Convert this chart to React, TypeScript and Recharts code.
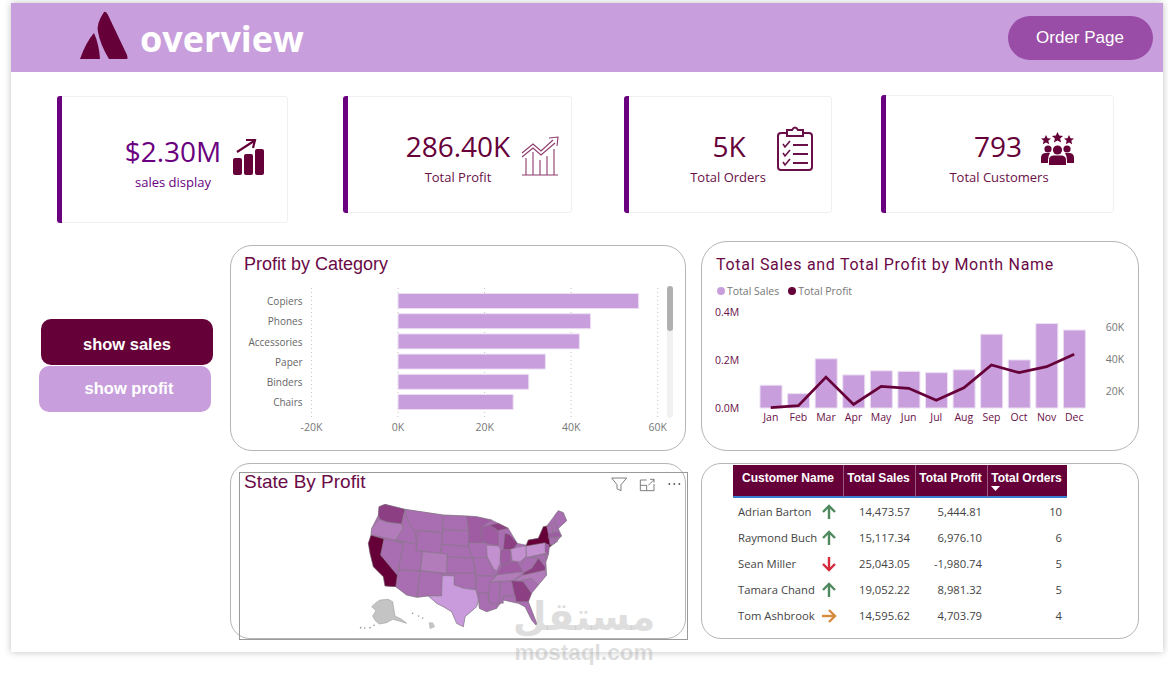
import React from "react";
import { BarChart, Bar, XAxis, YAxis, CartesianGrid, ComposedChart, Line, Legend } from "recharts";

const categories = ["Copiers", "Phones", "Accessories", "Paper", "Binders", "Chairs"];
const categoryProfit = [55600, 44500, 41900, 34050, 30200, 26600];
const profitTicks = [-20000, 0, 20000, 40000, 60000];

const months = ["Jan", "Feb", "Mar", "Apr", "May", "Jun", "Jul", "Aug", "Sep", "Oct", "Nov", "Dec"];
const monthSales = [94900, 59800, 205000, 137800, 155000, 152700, 147200, 159000, 307600, 200300, 352000, 325000];
const monthProfit = [9800, 11000, 28900, 11800, 23100, 21900, 14400, 22200, 36500, 31700, 35400, 43200];
const salesTicks = [0, 200000, 400000];
const profitAxisTicks = [20000, 40000, 60000];

const customers = ["Adrian Barton", "Raymond Buch", "Sean Miller", "Tamara Chand", "Tom Ashbrook"];
const custSales = ["14,473.57", "15,117.34", "25,043.05", "19,052.22", "14,595.62"];
const custProfit = ["5,444.81", "6,976.10", "-1,980.74", "8,981.32", "4,703.79"];
const custOrders = ["10", "6", "5", "5", "4"];
const custTrend = ["up", "up", "down", "up", "right"];

const kpiValues = ["$2.30M", "286.40K", "5K", "793"];
const kpiLabels = ["sales display", "Total Profit", "Total Orders", "Total Customers"];

const categoryRows = categories.map((name, i) => ({ name, profit: categoryProfit[i] }));
const monthRows = months.map((name, i) => ({ name, sales: monthSales[i], profit: monthProfit[i] }));

const WINE = "#660039";
const LILAC = "#c89fdc";
const PURPLE = "#6a0080";
const SANS = "'Open Sans', sans-serif";
const ARIAL = "'Liberation Sans', Arial, sans-serif";

const MID = "#a96db1", DARK = "#8d3f84", DEEP = "#9f5ca3", LIGHT = "#c491d0", PALE = "#c99bdc", SOFT = "#b27bba";

// outline of the state-by-profit map, traced in a 3x drawing space
const mapHull =
  "447,140 465,133 525,148 640,165 710,168 740,170 785,180 805,190 835,205 862,250 888,255 895,240 925,235 940,200 950,198 975,165 985,152 1000,158 1010,182 985,205 995,228 975,250 958,262 955,285 952,295 948,305 950,345 925,375 905,398 895,425 920,490 918,495 905,480 885,440 865,430 820,420 800,445 770,455 748,445 745,420 740,440 705,470 700,500 680,490 665,455 640,440 620,430 595,408 562,412 530,405 497,380 465,378 460,350 430,320 420,280 415,250 423,224 425,205 445,165";
const stateShapes: [string, string][] = [
  ["447,140 465,133 525,148 515,192 470,185 450,178 445,165", DARK],
  ["447,178 470,187 515,192 520,205 498,240 423,224 425,205", SOFT],
  ["525,148 540,195 555,215 560,253 498,240 520,205 515,190", MID],
  ["525,148 640,165 637,218 565,212 555,215 540,195 530,170", MID],
  ["565,212 637,218 632,280 558,272", MID],
  ["498,240 560,253 558,272 578,275 570,332 505,330 520,250", MID],
  ["578,275 652,282 650,340 572,332", SOFT],
  ["505,330 570,332 560,412 530,405 497,380 502,345", MID],
  ["570,332 637,340 635,408 590,408 562,412", MID],
  ["640,165 710,168 716,212 638,210", MID],
  ["638,210 716,212 716,260 635,253", MID],
  ["635,253 716,260 728,295 652,290 652,282 633,280", MID],
  ["652,290 728,295 735,340 650,340", MID],
  ["637,340 735,340 738,390 700,385 672,375 672,348 637,347", MID],
  ["637,347 672,348 672,375 700,385 738,390 745,420 740,440 705,470 700,500 680,490 665,455 640,440 620,430 595,408 635,408", PALE],
  ["710,168 740,170 785,180 755,200 755,235 768,248 716,248 716,212", DEEP],
  ["716,248 770,248 780,275 770,292 728,295 716,260", MID],
  ["728,295 770,292 785,320 795,348 738,348 735,320", MID],
  ["738,348 795,348 790,355 775,400 745,400 738,390", MID],
  ["745,400 775,400 775,425 800,425 800,445 770,455 748,445 748,420", MID],
  ["755,200 785,195 805,215 805,258 770,250 755,235", DEEP],
  ["770,256 805,258 812,270 810,310 800,332 790,325 772,290", LIGHT],
  ["812,270 842,266 842,305 815,318 810,300", DEEP],
  ["820,268 825,220 840,225 862,250 850,268", DARK],
  ["780,195 805,190 835,205 810,210 805,212", DARK],
  ["842,268 862,262 888,258 888,290 870,305 847,302", LIGHT],
  ["800,342 815,318 842,305 860,305 875,325 880,335 800,345", DEEP],
  ["790,358 800,345 880,335 870,345 850,362 780,367", SOFT],
  ["780,367 812,365 808,430 780,430 775,400", MID],
  ["812,365 845,362 855,405 820,410 820,430 808,430", MID],
  ["845,362 880,365 905,400 895,425 858,425", DARK],
  ["820,410 855,405 858,425 895,425 920,490 918,495 905,480 885,440 865,430 820,420", MID],
  ["870,362 905,355 925,375 905,400 880,365", MID],
  ["850,362 880,345 945,330 950,345 925,375 905,355 870,362", SOFT],
  ["880,338 905,325 925,295 945,320 945,330 880,345", DARK],
  ["870,320 888,290 925,295 905,325 880,338", MID],
  ["888,258 945,248 955,275 945,280 890,292", LIGHT],
  ["895,240 925,235 940,200 952,198 965,255 958,262 945,248 888,258", WINE],
  ["975,165 985,152 1000,158 1010,182 985,205 975,190", MID],
  ["965,195 975,185 982,210 968,218", MID],
  ["950,198 965,195 968,218 955,222", MID],
  ["955,222 985,215 995,228 955,235", DEEP],
  ["957,235 975,232 975,250 960,255", MID],
  ["975,232 983,232 982,245 975,248", MID],
  ["945,250 958,255 955,285 945,275", DEEP],
  ["945,280 952,295 943,295", MID],
  ["900,292 945,283 948,305 935,300 925,295", MID],
  ["423,226 462,237 452,285 502,345 497,380 465,378 460,350 430,320 420,280 415,250", WINE],
  ["462,237 520,250 505,330 502,345 452,285", MID],
];
const alaskaShape = "450,420 475,418 488,425 495,468 515,478 530,490 510,484 488,478 470,488 448,492 436,482 428,468 438,452 425,440 438,428";
const hawaiiShape = "597,488 608,488 614,500 600,506";
const islandDots = ["548,460", "566,468", "578,474", "392,503", "404,504", "420,503", "432,496"];

function Txt({ x, y, children, style, anchor = "center" }: any) {
  const tx = anchor === "center" ? "-50%" : anchor === "end" ? "-100%" : "0";
  return (
    <div style={{ position: "absolute", left: x, top: y, transform: `translate(${tx},-50%)`, whiteSpace: "nowrap", lineHeight: 1, ...style }}>
      {children}
    </div>
  );
}

function Box({ x, y, w, h, style }: any) {
  return <div style={{ position: "absolute", left: x, top: y, width: w, height: h, boxSizing: "border-box", ...style }} />;
}

function Kpi({ x, y, w, h }: any) {
  return (
    <>
      <Box x={x} y={y} w={w} h={h} style={{ border: "1px solid #f0f0f0", borderRadius: 3, background: "#fff" }} />
      <Box x={x} y={y} w={5} h={h} style={{ background: PURPLE, borderRadius: "3px 0 0 3px" }} />
    </>
  );
}

function Arrow({ kind, x, y }: any) {
  const color = kind === "up" ? "#4f8a5f" : kind === "down" ? "#d42a3c" : "#d58a3c";
  const rot = kind === "up" ? 0 : kind === "down" ? 180 : 90;
  return (
    <svg width={16} height={16} viewBox="0 0 16 16" style={{ position: "absolute", left: x - 8, top: y - 8 }}>
      <g transform={`rotate(${rot} 8 8)`} fill="none" stroke={color} strokeWidth={2.4}>
        <path d="M8 15V2" />
        <path d="M2 8 L8 2 L14 8" />
      </g>
    </svg>
  );
}

function MonthLegend({ payload }: any) {
  return (
    <div style={{ display: "flex", alignItems: "center", fontSize: 10.5, fontFamily: SANS, color: "#777", height: 13, whiteSpace: "nowrap" }}>
      {(payload || []).map((p: any) => (
        <span key={p.value} style={{ display: "inline-flex", alignItems: "center", marginRight: 9 }}>
          <span style={{ width: 8, height: 8, borderRadius: 4, background: p.color, marginRight: 2 }} />
          {p.value}
        </span>
      ))}
    </div>
  );
}

export default function App() {
  const axisGrey = { fontSize: 10.5, fill: "#777", fontFamily: SANS };
  const catGrey = { fontSize: 10, fill: "#666", fontFamily: SANS, dy: 1 };
  const axisWine = { fontSize: 10.5, fill: "#6a1048", fontFamily: SANS };
  const kpiBig = { fontSize: 28, fontWeight: 500 };
  return (
    <div style={{ position: "absolute", left: 0, top: 0, width: 1168, height: 678, background: "#fff", overflow: "hidden", fontFamily: SANS }}>
      <Box x={11} y={3} w={1152} h={649} style={{ background: "#fff", boxShadow: "0 0 7px rgba(0,0,0,0.25)" }} />
      <Box x={11} y={3} w={1152} h={69} style={{ background: LILAC }} />

      <svg width={60} height={60} style={{ position: "absolute", left: 75, top: 6 }}>
        <g transform="translate(-75,-6)" fill={WINE}>
          <path d="M80 59 Q86 42 94 33 Q99 44 100 59 Z" />
          <path d="M104 12 Q96 24 98 32 Q100 44 109 59 L127 59 Q128 58 127 55 L108 15 Q106 11 104 12 Z" />
        </g>
      </svg>
      <Txt x={140} y={39} anchor="start" style={{ fontSize: 36, fontWeight: 700, color: "#fff" }}>overview</Txt>
      <Box x={1008} y={16} w={145} h={44} style={{ background: "#9a4da6", borderRadius: 22 }} />
      <Txt x={1080} y={37} style={{ fontFamily: ARIAL, fontSize: 17, color: "#fff" }}>Order Page</Txt>

      <Kpi x={57} y={96} w={231} h={127} />
      <Kpi x={343} y={96} w={229} h={117} />
      <Kpi x={624} y={96} w={208} h={117} />
      <Kpi x={881} y={95} w={233} h={118} />

      <Txt x={173} y={151} style={{ ...kpiBig, color: PURPLE }}>{kpiValues[0]}</Txt>
      <Txt x={173} y={182} style={{ fontSize: 13, color: PURPLE }}>{kpiLabels[0]}</Txt>
      <Txt x={458} y={146} style={{ ...kpiBig, color: WINE }}>{kpiValues[1]}</Txt>
      <Txt x={458} y={177} style={{ fontSize: 13, color: "#6a1048" }}>{kpiLabels[1]}</Txt>
      <Txt x={729} y={146} style={{ ...kpiBig, color: WINE }}>{kpiValues[2]}</Txt>
      <Txt x={728} y={177} style={{ fontSize: 13, color: "#6a1048" }}>{kpiLabels[2]}</Txt>
      <Txt x={998} y={146} style={{ ...kpiBig, color: WINE }}>{kpiValues[3]}</Txt>
      <Txt x={999} y={177} style={{ fontSize: 13, color: "#6a1048" }}>{kpiLabels[3]}</Txt>

      <svg width={1168} height={200} style={{ position: "absolute", left: 0, top: 0, pointerEvents: "none" }}>
        <g fill={WINE}>
          <rect x={233} y={158} width={9} height={17} rx={2} />
          <rect x={244} y={154} width={9} height={21} rx={2} />
          <rect x={255} y={149} width={9} height={26} rx={2} />
        </g>
        <path d="M237 152 L254 141 M246 140 L255 140 L253 148" fill="none" stroke={WINE} strokeWidth={2.2} />
        <g fill="none" stroke="#8e3a6c" strokeWidth={1.1}>
          <path d="M522 175 H558 M526 175 V158 M533 175 V152 M540 175 V160 M547 175 V156 M554 175 V149" />
          <path d="M522 157 L533 148 L541 155 L555 143 M522 153 L533 144 L541 151 L553 140 M549 138 L558 137 L557 146" />
        </g>
        <g fill="none" stroke="#6a1048" strokeWidth={2}>
          <rect x={778} y={133} width={34} height={37} rx={3} />
          <path d="M787 133 V130 H792 Q795 125 798 130 H803 V136 H787 Z" fill="#fff" />
          <path d="M783 144 L785 147 L790 141 M783 153 L785 156 L790 150 M783 162 L785 165 L790 159" strokeWidth={1.6} />
          <path d="M793 145 H808 M793 154 H808 M793 163 H808" />
        </g>
        <g fill={WINE}>
          <path d="M1046 135 l1.5 3.2 3.5 .3-2.7 2.3 .9 3.4-3.2-1.8-3.2 1.8 .9-3.4-2.7-2.3 3.5-.3z" />
          <path d="M1057.5 132 l1.7 3.6 3.9 .4-3 2.6 1 3.8-3.6-2-3.6 2 1-3.8-3-2.6 3.9-.4z" />
          <path d="M1069 135 l1.5 3.2 3.5 .3-2.7 2.3 .9 3.4-3.2-1.8-3.2 1.8 .9-3.4-2.7-2.3 3.5-.3z" />
          <circle cx={1048} cy={149} r={3.6} />
          <circle cx={1067} cy={149} r={3.6} />
          <circle cx={1057.5} cy={150} r={4.6} />
          <path d="M1041 163 V158 Q1041 153 1046 153 H1050 Q1048 156 1048 160 V163 Z" />
          <path d="M1074 163 V158 Q1074 153 1069 153 H1065 Q1067 156 1067 160 V163 Z" />
          <path d="M1049 165 V160 Q1049 155.5 1054 155.5 H1061 Q1066 155.5 1066 160 V165 Z" />
        </g>
      </svg>

      <Box x={41} y={319} w={172} h={46} style={{ background: WINE, borderRadius: 10 }} />
      <Txt x={127} y={344} style={{ fontFamily: ARIAL, fontWeight: 700, fontSize: 16.5, color: "#fff" }}>show sales</Txt>
      <Box x={39} y={366} w={172} h={46} style={{ background: LILAC, borderRadius: 10 }} />
      <Txt x={129} y={388} style={{ fontFamily: ARIAL, fontWeight: 700, fontSize: 16.5, color: "#fff" }}>show profit</Txt>

      {/* Profit by Category */}
      <Box x={230} y={245} w={456} h={206} style={{ border: "1px solid #b5b5b5", borderRadius: 22 }} />
      <Txt x={244} y={264} anchor="start" style={{ fontFamily: ARIAL, fontSize: 18, color: "#6a0a46" }}>Profit by Category</Txt>
      <div style={{ position: "absolute", left: 231, top: 270 }}>
        <BarChart width={450} height={170} layout="vertical" data={categoryRows} margin={{ top: 18, left: 0, right: 23.3, bottom: 3 }} barSize={15}>
          <CartesianGrid horizontal={false} strokeDasharray="1 3" stroke="#c4c4c4" />
          <XAxis type="number" domain={[-20000, 60000]} ticks={profitTicks} axisLine={false} tickLine={false} height={20} tickMargin={1}
            tickFormatter={(v: number) => `${v / 1000}K`} tick={axisGrey} interval={0} />
          <YAxis type="category" dataKey="name" width={80.5} axisLine={false} tickLine={false} tickMargin={3} tick={catGrey}
            padding={{ top: 2.5, bottom: 5.3 }} interval={0} />
          <Bar dataKey="profit" fill={LILAC} stroke="#ecdff3" strokeWidth={1} isAnimationActive={false} />
        </BarChart>
      </div>
      <Box x={667} y={286} w={6} h={132} style={{ background: "#f1f1f1", borderRadius: 3 }} />
      <Box x={667} y={286} w={6} h={45} style={{ background: "#b0b0b0", borderRadius: 3 }} />

      {/* Monthly combo */}
      <Box x={701} y={241} w={438} h={210} style={{ border: "1px solid #b5b5b5", borderRadius: 26 }} />
      <Txt x={716} y={265} anchor="start" style={{ fontFamily: "Roboto, sans-serif", fontWeight: 400, fontSize: 16, letterSpacing: 0.7, color: "#6a0a46" }}>
        Total Sales and Total Profit by Month Name
      </Txt>
      <div style={{ position: "absolute", left: 702, top: 282 }}>
        <ComposedChart width={436} height={158} data={monthRows} margin={{ top: 17, left: 0, right: 0, bottom: 12 }} barSize={22}>
          <Legend verticalAlign="top" align="left" itemSorter={(item: any) => (item.value === "Total Sales" ? 0 : 1)}
            content={<MonthLegend />} wrapperStyle={{ position: "absolute", left: 15, top: 2, width: 200 }} />
          <XAxis dataKey="name" axisLine={false} tickLine={false} height={20} tickMargin={0} tick={axisWine} interval={0} />
          <YAxis yAxisId="left" domain={[0, 400000]} ticks={salesTicks} width={55} axisLine={false} tickLine={false} tickMargin={11.7}
            tickFormatter={(v: number) => `${(v / 1000000).toFixed(1)}M`} tick={axisWine} interval={0} />
          <YAxis yAxisId="right" orientation="right" domain={[9600, 69600]} ticks={profitAxisTicks} width={50} axisLine={false} tickLine={false} tickMargin={11.7}
            tickFormatter={(v: number) => `${v / 1000}K`} tick={axisGrey} interval={0} />
          <Bar yAxisId="left" dataKey="sales" name="Total Sales" fill={LILAC} stroke="#ecdff3" strokeWidth={1} isAnimationActive={false} />
          <Line yAxisId="right" dataKey="profit" name="Total Profit" stroke={WINE} strokeWidth={2.8} dot={false} legendType="circle" isAnimationActive={false} />
        </ComposedChart>
      </div>

      {/* Map */}
      <Box x={230} y={463} w={456} h={176} style={{ border: "1px solid #b5b5b5", borderRadius: 20 }} />
      <Box x={239} y={472} w={449} h={168} style={{ border: "1px solid #9a9a9a" }} />
      <Txt x={244} y={481} anchor="start" style={{ fontFamily: ARIAL, fontSize: 19, color: "#6a0a46" }}>State By Profit</Txt>
      <svg width={465} height={210} viewBox="0 0 1395 630" style={{ position: "absolute", left: 230, top: 460 }}>
        <polygon points={mapHull} fill={MID} stroke="#7d7d7d" strokeWidth={1.4} strokeLinejoin="round" />
        {stateShapes.map(([pts, fill], i) => (
          <polygon key={i} points={pts} fill={fill} stroke="#7d7d7d" strokeWidth={1.4} strokeLinejoin="round" />
        ))}
        <polygon points={alaskaShape} fill="#c4c4c4" stroke="#8a8a8a" strokeWidth={1.4} />
        <polygon points={hawaiiShape} fill="#c4c4c4" stroke="#a0a0a0" strokeWidth={1} />
        {islandDots.map((p) => {
          const [cx, cy] = p.split(",");
          return <circle key={p} cx={cx} cy={cy} r={2.5} fill="#999" />;
        })}
        <g fill="none" stroke="#666" strokeWidth={2.5}>
          <path d="M1145 54 H1190 L1173 74 V92 L1161 86 V74 Z" />
          <path d="M1250 60 H1231 V92 H1272 V72 M1231 76 H1250 V92 M1255 76 L1272 59 M1260 58 H1272 V68" />
        </g>
        <g fill="#555">
          <circle cx={1318} cy={72} r={2.8} /><circle cx={1333} cy={72} r={2.8} /><circle cx={1348} cy={72} r={2.8} />
        </g>
      </svg>

      {/* Table */}
      <Box x={701} y={463} w={438} h={176} style={{ border: "1px solid #b5b5b5", borderRadius: 20 }} />
      <Box x={733} y={465} w={334} h={33} style={{ background: WINE, borderBottom: "2px solid #3b7fd0" }} />
      {[842.5, 914.5, 986.5].map((x) => <Box key={x} x={x} y={465} w={1} h={32} style={{ background: "#9c5a82" }} />)}
      {["Customer Name", "Total Sales", "Total Profit", "Total Orders"].map((h, i) => (
        <Txt key={h} x={[788, 878.5, 950.5, 1026.5][i]} y={478} style={{ fontFamily: ARIAL, fontWeight: 700, fontSize: 12, color: "#fff" }}>{h}</Txt>
      ))}
      <svg width={12} height={8} style={{ position: "absolute", left: 990, top: 485 }}><path d="M1 1 H10 L5.5 6 Z" fill="#fff" /></svg>
      {customers.map((name, i) => {
        const y = 512 + i * 26;
        const c = { fontSize: 11.25, color: "#444" };
        return (
          <React.Fragment key={name}>
            <Txt x={738} y={y} anchor="start" style={c}>{name}</Txt>
            <Arrow kind={custTrend[i]} x={829} y={y} />
            <Txt x={910} y={y} anchor="end" style={c}>{custSales[i]}</Txt>
            <Txt x={982} y={y} anchor="end" style={c}>{custProfit[i]}</Txt>
            <Txt x={1062} y={y} anchor="end" style={c}>{custOrders[i]}</Txt>
          </React.Fragment>
        );
      })}

      {/* Watermark */}
      <Txt x={584} y={616} style={{ fontFamily: "'DejaVu Sans', sans-serif", fontWeight: 700, fontSize: 39, color: "rgba(160,160,160,0.35)" }}>مستقل</Txt>
      <Txt x={584} y={653} style={{ fontFamily: ARIAL, fontWeight: 700, fontSize: 22.5, color: "rgba(160,160,160,0.35)" }}>mostaql.com</Txt>
    </div>
  );
}
